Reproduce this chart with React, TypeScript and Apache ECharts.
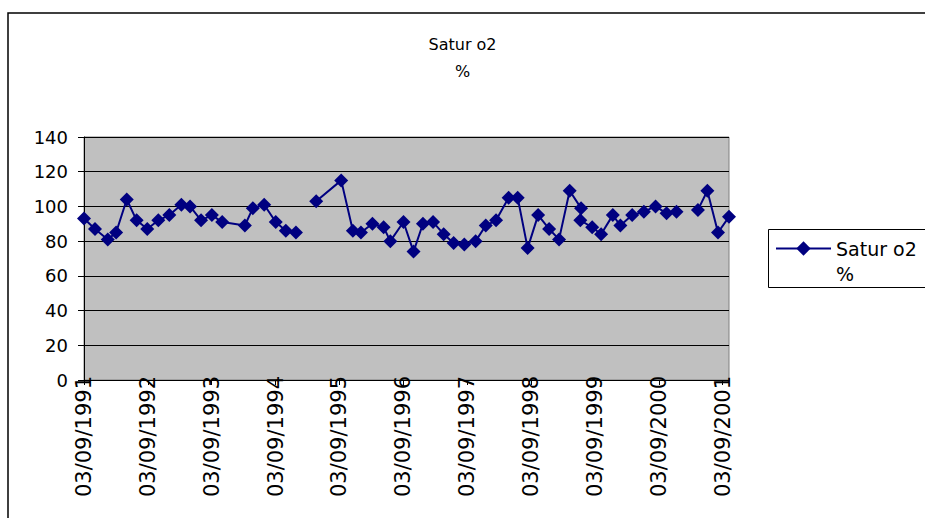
import React, { useEffect, useRef } from "react";
import * as echarts from "echarts";

const chartTitle = "Satur o2\n%";
const seriesName = "Satur o2\n%";
const yTicks = [0, 20, 40, 60, 80, 100, 120, 140];
const startYear = 1991;
const startLabelDay = "03/09/";

const dates = [
  "1991-09-03", "1991-11-05", "1992-01-17", "1992-03-04", "1992-05-04", "1992-06-30",
  "1992-08-30", "1992-11-02", "1993-01-04", "1993-03-12", "1993-05-01", "1993-07-03",
  "1993-09-04", "1993-11-02", "1994-03-10", "1994-04-25", "1994-06-29", "1994-09-04",
  "1994-10-31", "1994-12-28", "1995-02-25", "1995-04-22", "1995-09-13", "1995-11-19",
  "1996-01-04", "1996-03-09", "1996-05-12", "1996-06-20", "1996-09-04", "1996-10-31",
  "1996-12-24", "1997-02-21", "1997-04-21", "1997-06-17", "1997-08-17", "1997-10-21",
  "1997-12-18", "1998-02-16", "1998-04-27", "1998-06-18", "1998-08-14", "1998-10-13",
  "1998-12-15", "1999-02-11", "1999-04-11", "1999-06-15", "1999-06-11", "1999-08-18",
  "1999-10-08", "1999-12-14", "2000-01-27", "2000-04-03", "2000-06-09", "2000-08-15",
  "2000-10-17", "2000-12-13", "2001-02-10", "2001-04-14", "2001-06-07", "2001-08-07",
  "2001-10-09",
];

const saturO2: (number | null)[] = [
  93, 87, 81, 85, 104, 92,
  87, 92, 95, 101, 100, 92,
  95, 91, 89, 99, 101, 91,
  86, 85, null, 103, 115, 86,
  85, 90, 88, 80, 91, 74,
  90, 91, 84, 79, 78, 80,
  89, 92, 105, 105, 76, 95,
  87, 81, 109, 99, 92, 88,
  84, 95, 89, 95, 97, 100,
  96, 97, null, 98, 109, 85,
  94,
];

// months elapsed since 03/09/1991
function monthsSinceStart(d: string): number {
  const [y, m, day] = d.split("-").map(Number);
  return (y - startYear) * 12 + (m - 9) + (day - 3) / 30.44;
}

export default function App() {
  const ref = useRef<HTMLDivElement>(null);

  useEffect(() => {
    if (!ref.current) return;
    const chart = echarts.init(ref.current, undefined, { renderer: "svg" });
    const data = dates.map((d, i) => [
      monthsSinceStart(d),
      saturO2[i] === null ? "-" : saturO2[i],
    ]);
    const xMax = monthsSinceStart(dates[dates.length - 1]);
    const font = "DejaVu Sans, Verdana, sans-serif";

    chart.setOption({
      animation: false,
      backgroundColor: "#ffffff",
      textStyle: { fontFamily: font },
      title: {
        text: chartTitle,
        left: "center",
        top: 31,
        padding: 0,
        textStyle: {
          fontFamily: font,
          fontSize: 16,
          fontWeight: "normal",
          color: "#000000",
          lineHeight: 27,
        },
      },
      legend: {
        left: 775,
        top: 211,
        padding: 0,
        itemWidth: 55,
        itemHeight: 18,
        itemGap: 0,
        data: [seriesName],
        // leading empty line keeps the first label line level with the icon
        formatter: (name: string) => "\n" + name,
        textStyle: {
          fontFamily: font,
          fontSize: 19,
          color: "#000000",
          lineHeight: 25,
        },
      },
      graphic: [
        {
          type: "rect",
          shape: { x: 8, y: 13, width: 940, height: 540 },
          style: { fill: "none", stroke: "#000000", lineWidth: 1.5 },
          silent: true,
        },
        {
          type: "rect",
          shape: { x: 768.5, y: 229.5, width: 170, height: 58 },
          style: { fill: "none", stroke: "#000000", lineWidth: 1 },
          silent: true,
        },
      ],
      grid: {
        left: 84,
        top: 137,
        right: 196,
        bottom: 138,
        show: true,
        backgroundColor: "#C0C0C0",
        borderColor: "#808080",
        borderWidth: 1,
      },
      xAxis: {
        type: "value",
        min: 0,
        max: xMax,
        interval: 12,
        axisLine: { show: true, onZero: false, lineStyle: { color: "#000000", width: 1 } },
        axisTick: { show: true, length: 5, lineStyle: { color: "#000000" } },
        splitLine: { show: false },
        axisLabel: {
          rotate: 90,
          margin: -4,
          fontFamily: font,
          fontSize: 21,
          color: "#000000",
          showMaxLabel: false,
          formatter: (v: number) => {
            const r = Math.round(v);
            if (Math.abs(v - r) > 1e-6 || r % 12 !== 0) return "";
            return startLabelDay + String(startYear + r / 12);
          },
        },
      },
      yAxis: {
        type: "value",
        min: yTicks[0],
        max: yTicks[yTicks.length - 1],
        interval: 20,
        axisLine: { show: true, lineStyle: { color: "#000000", width: 1 } },
        axisTick: { show: true, length: 6, lineStyle: { color: "#000000" } },
        splitLine: { show: true, lineStyle: { color: "#000000", width: 1 } },
        axisLabel: {
          margin: 16,
          fontFamily: font,
          fontSize: 18,
          color: "#000000",
        },
      },
      series: [
        {
          name: seriesName,
          type: "line",
          data,
          connectNulls: false,
          symbol: "diamond",
          symbolSize: 14,
          showAllSymbol: true,
          lineStyle: { color: "#000080", width: 2 },
          itemStyle: { color: "#000080" },
        },
      ],
    });

    return () => chart.dispose();
  }, []);

  return (
    <div
      ref={ref}
      style={{ position: "fixed", left: 0, top: 0, width: 925, height: 518 }}
    />
  );
}
